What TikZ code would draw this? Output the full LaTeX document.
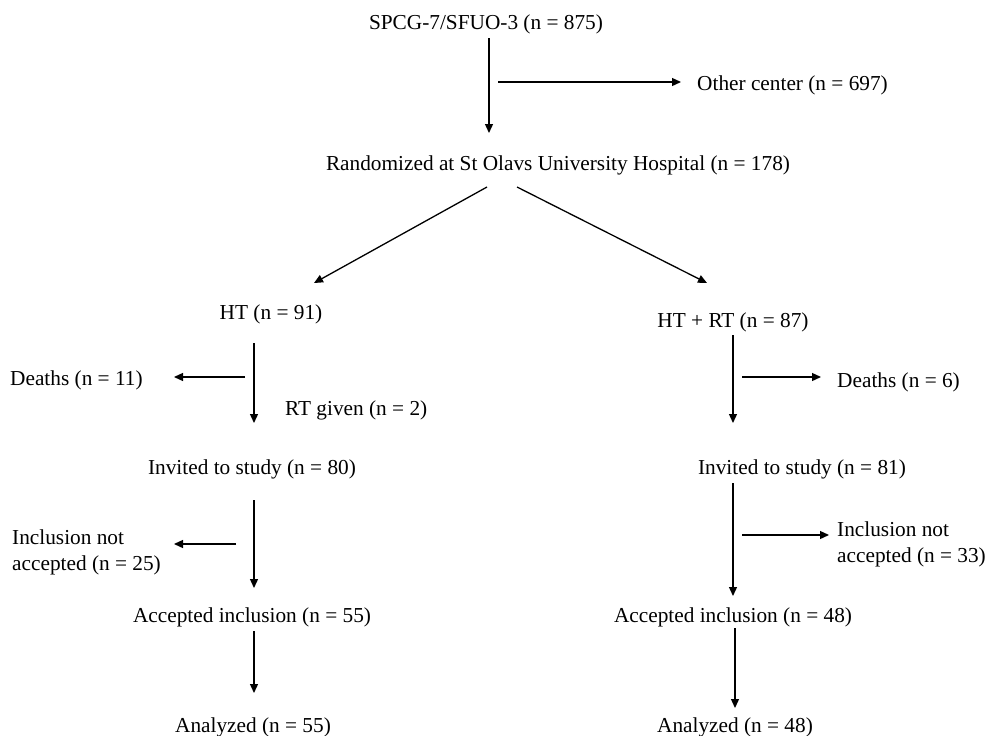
\documentclass[tikz,border=0pt]{standalone}
\usepackage{fontspec}
\setmainfont{Liberation Serif}
\usetikzlibrary{arrows.meta}
\begin{document}
\begin{tikzpicture}[x=1pt,y=-1pt,
  lbl/.style={inner sep=0pt,font=\fontsize{21.3}{26}\selectfont,text height=14pt,text depth=5pt},
  lbl2/.style={inner sep=0pt,font=\fontsize{21.3}{26}\selectfont,align=left,anchor=west},
  arr/.style={line width=1.3pt,-{Triangle[length=9pt,width=8pt]}}]
\useasboundingbox (0,0) rectangle (986,736);
% nodes
\node[lbl] (top) at (486,25) {SPCG-7/SFUO-3 (n = 875)};
\node[lbl,anchor=west] (other) at (697,86) {Other center (n = 697)};
\node[lbl] (rand) at (558,166) {Randomized at St Olavs University Hospital (n = 178)};
\node[lbl] (ht) at (271,315) {HT (n = 91)};
\node[lbl] (htrt) at (733,323) {HT + RT (n = 87)};
\node[lbl,anchor=west] (dl) at (10,381) {Deaths (n = 11)};
\node[lbl,anchor=west] (rtg) at (285,411) {RT given (n = 2)};
\node[lbl,anchor=west] (dr) at (837,383) {Deaths (n = 6)};
\node[lbl] (invl) at (252,470) {Invited to study (n = 80)};
\node[lbl] (invr) at (802,470) {Invited to study (n = 81)};
\node[lbl2] (incl) at (12,552) {Inclusion not\\accepted (n = 25)};
\node[lbl2] (incr) at (837,544) {Inclusion not\\accepted (n = 33)};
\node[lbl] (accl) at (252,618) {Accepted inclusion (n = 55)};
\node[lbl] (accr) at (733,618) {Accepted inclusion (n = 48)};
\node[lbl] (anl) at (253,727.5) {Analyzed (n = 55)};
\node[lbl] (anr) at (735,727.5) {Analyzed (n = 48)};
% connector ends
\coordinate (t1) at (489,38);   \coordinate (t2) at (489,133);
\coordinate (o1) at (498,82);   \coordinate (o2) at (681,82);
\coordinate (r1) at (487,187);  \coordinate (r2) at (314,283);
\coordinate (r3) at (517,187);  \coordinate (r4) at (707,283);
\coordinate (h1) at (254,343);  \coordinate (h2) at (254,423);
\coordinate (d1) at (245,377);  \coordinate (d2) at (174,377);
\coordinate (k1) at (733,335);  \coordinate (k2) at (733,423);
\coordinate (e1) at (742,377);  \coordinate (e2) at (821,377);
\coordinate (i1) at (254,500);  \coordinate (i2) at (254,588);
\coordinate (n1) at (236,544);  \coordinate (n2) at (174,544);
\coordinate (j1) at (733,483);  \coordinate (j2) at (733,596);
\coordinate (m1) at (742,535);  \coordinate (m2) at (829,535);
\coordinate (a1) at (254,631);  \coordinate (a2) at (254,693);
\coordinate (b1) at (735,628);  \coordinate (b2) at (735,708);
% connectors
\draw[arr] (t1) -- (t2);
\draw[arr] (o1) -- (o2);
\draw[arr] (r1) -- (r2);
\draw[arr] (r3) -- (r4);
\draw[arr] (h1) -- (h2);
\draw[arr] (d1) -- (d2);
\draw[arr] (k1) -- (k2);
\draw[arr] (e1) -- (e2);
\draw[arr] (i1) -- (i2);
\draw[arr] (n1) -- (n2);
\draw[arr] (j1) -- (j2);
\draw[arr] (m1) -- (m2);
\draw[arr] (a1) -- (a2);
\draw[arr] (b1) -- (b2);
\end{tikzpicture}
\end{document}
